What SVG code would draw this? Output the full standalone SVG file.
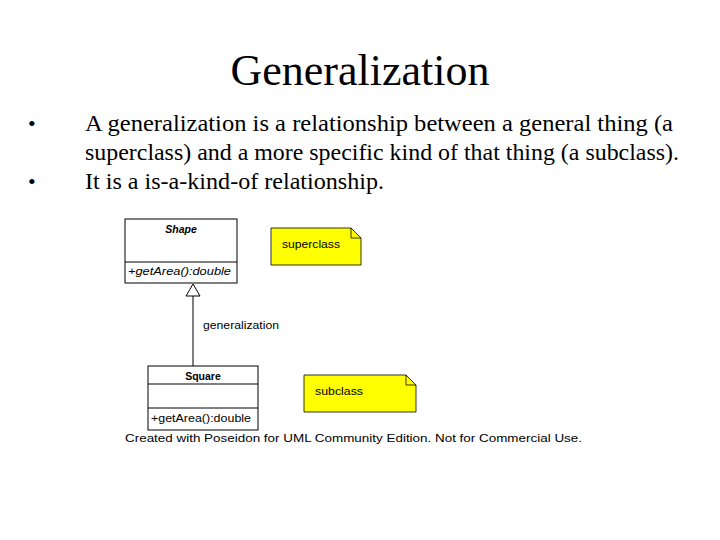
<svg xmlns="http://www.w3.org/2000/svg" width="720" height="540" viewBox="0 0 720 540">
<style>
.t{font-family:"Liberation Serif",serif;fill:#000}
.u{font-family:"Liberation Sans",Arial,sans-serif;fill:#000;font-size:10.5px}
.box{fill:#fff;stroke:#000;stroke-width:1}
.note{fill:#ffff00;stroke:#000;stroke-width:0.8}
</style>
<rect width="720" height="540" fill="#fff"/>
<text class="t" x="360" y="85" font-size="44" text-anchor="middle">Generalization</text>
<text class="t" x="28" y="131" font-size="22">•</text>
<text class="t" x="28" y="189" font-size="22">•</text>
<text class="t" x="85" y="131" font-size="24" textLength="588" lengthAdjust="spacingAndGlyphs">A generalization is a relationship between a general thing (a</text>
<text class="t" x="85" y="160" font-size="24" textLength="594" lengthAdjust="spacingAndGlyphs">superclass) and a more specific kind of that thing (a subclass).</text>
<text class="t" x="85" y="189" font-size="24" textLength="299" lengthAdjust="spacingAndGlyphs">It is a is-a-kind-of relationship.</text>
<g id="shape">
<rect class="box" x="125" y="219" width="112" height="64"/>
<line x1="125" y1="262" x2="237" y2="262" stroke="#000"/>
<text class="u" x="181" y="233" text-anchor="middle" font-weight="bold" font-style="italic">Shape</text>
<text class="u" x="128" y="275" font-style="italic" textLength="103" lengthAdjust="spacingAndGlyphs">+getArea():double</text>
</g>
<g id="square">
<rect class="box" x="148" y="366" width="110" height="64"/>
<line x1="148" y1="384" x2="258" y2="384" stroke="#000"/>
<line x1="148" y1="408" x2="258" y2="408" stroke="#000"/>
<text class="u" x="203" y="380" text-anchor="middle" font-weight="bold">Square</text>
<text class="u" x="151" y="422" textLength="100" lengthAdjust="spacingAndGlyphs">+getArea():double</text>
</g>
<g id="superclass">
<path class="note" d="M271,228 H351 L361,238 V265 H271 Z"/>
<path d="M351,228 V238 H361" fill="none" stroke="#000" stroke-width="0.8"/>
<text class="u" x="282" y="248" textLength="58" lengthAdjust="spacingAndGlyphs">superclass</text>
</g>
<g id="subclass">
<path class="note" d="M304,375 H406 L416,385 V412 H304 Z"/>
<path d="M406,375 V385 H416" fill="none" stroke="#000" stroke-width="0.8"/>
<text class="u" x="315" y="395" font-size="9.5" textLength="48" lengthAdjust="spacingAndGlyphs">subclass</text>
</g>
<g id="connectors">
<line x1="193" y1="296" x2="193" y2="366" stroke="#000"/>
<polygon points="193,284 186,296 200,296" fill="#fff" stroke="#000"/>
<text class="u" x="203" y="329" textLength="76" lengthAdjust="spacingAndGlyphs">generalization</text>
</g>
<text class="u" x="125" y="442" font-size="11" textLength="457" lengthAdjust="spacingAndGlyphs">Created with Poseidon for UML Community Edition. Not for Commercial Use.</text>
</svg>
